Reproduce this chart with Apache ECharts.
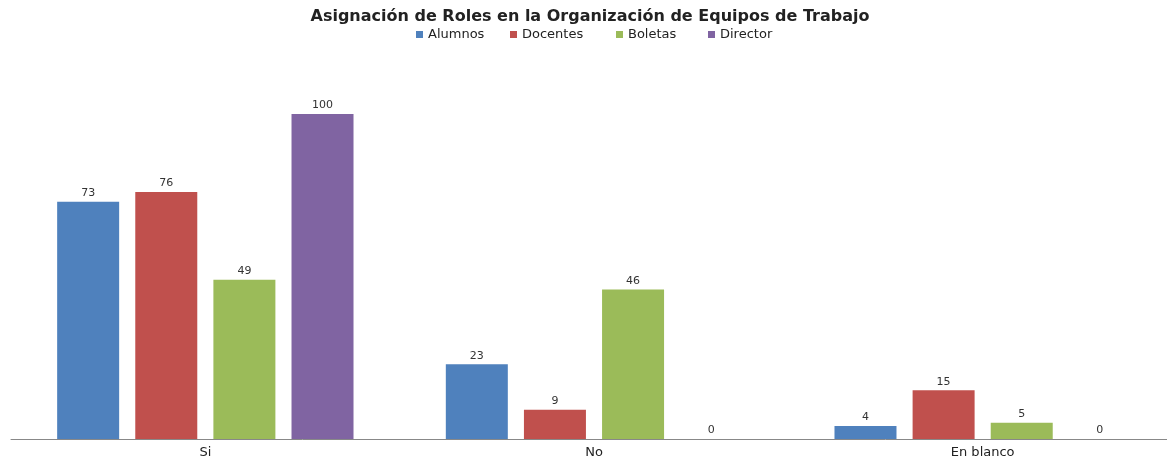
<!DOCTYPE html>
<html>
<head>
<meta charset="utf-8">
<script src="https://cdn.jsdelivr.net/npm/echarts@6/dist/echarts.min.js"></script>
<style>
  html, body { margin: 0; padding: 0; background: #fff; overflow: hidden; }
  /* un poco mas ancho que la ventana: el eje del original sigue mas alla del borde */
  #chart { width: 1180px; height: 462px; }
</style>
</head>
<body>
<div id="chart"></div>
<script>
// categorias y valores
const categories = ['Si', 'No', 'En blanco']
const alumnos = [73, 23, 4]
const docentes = [76, 9, 15]
const boletas = [49, 46, 5]
const director = [100, 0, 0]
const seriesNames = ['Alumnos', 'Docentes', 'Boletas', 'Director']
const colors = ['#4F81BD', '#C0504D', '#9BBB59', '#8064A2']
const legendLeft = [416, 510, 616, 708]

let chart = echarts.init(document.getElementById('chart'))

function makeSeries(name, data) {
  return {
    name: name,
    type: 'bar',
    data: data,
    barWidth: 62,
    barGap: '26%',
    label: {
      show: true,
      position: 'top',
      distance: 3,
      color: '#333',
      fontSize: 11,
      fontFamily: 'DejaVu Sans'
    }
  }
}

// una leyenda por serie para respetar el espaciado del original
let legends = seriesNames.map(function (name, i) {
  return {
    data: [name],
    top: 28,
    left: legendLeft[i],
    padding: 0,
    itemWidth: 7,
    itemHeight: 7,
    icon: 'rect',
    textStyle: {
      fontFamily: 'DejaVu Sans',
      fontSize: 13,
      color: '#222'
    }
  }
})

let option = {
  color: colors,
  animation: false,
  title: {
    text: 'Asignación de Roles en la Organización de Equipos de Trabajo',
    left: 'center',
    top: 4,
    textStyle: {
      fontFamily: 'DejaVu Sans',
      fontSize: 16,
      fontWeight: 'bold',
      color: '#222'
    }
  },
  legend: legends,
  grid: {
    left: 11,
    right: 3,
    top: 114,
    bottom: 23,
    containLabel: false
  },
  xAxis: {
    type: 'category',
    data: categories,
    axisLine: { lineStyle: { color: '#888', width: 1 } },
    axisTick: { show: false },
    axisLabel: {
      fontFamily: 'DejaVu Sans',
      fontSize: 13,
      color: '#222',
      margin: 7
    }
  },
  yAxis: {
    type: 'value',
    min: 0,
    max: 100,
    show: false,
    splitLine: { show: false }
  },
  series: [
    makeSeries(seriesNames[0], alumnos),
    makeSeries(seriesNames[1], docentes),
    makeSeries(seriesNames[2], boletas),
    makeSeries(seriesNames[3], director)
  ]
}
chart.setOption(option)
</script>
</body>
</html>
